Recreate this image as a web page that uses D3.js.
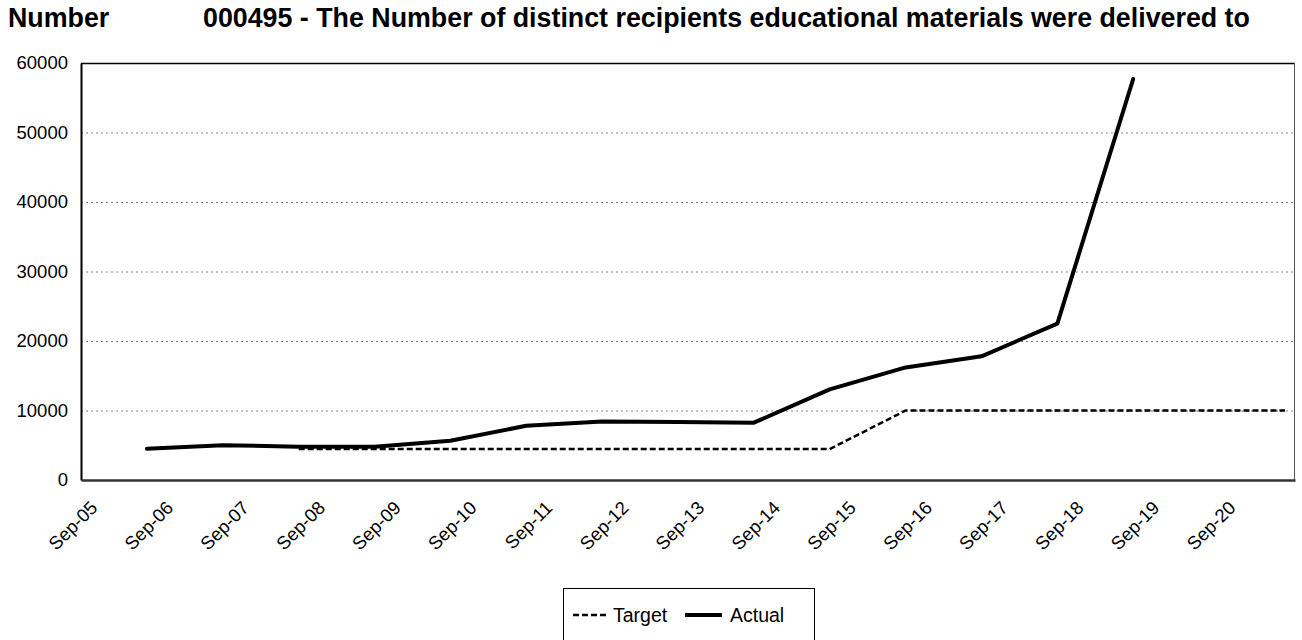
<!DOCTYPE html>
<html>
<head>
<meta charset="utf-8">
<script src="https://cdn.jsdelivr.net/npm/d3@7"></script>
<style>
  html, body { margin: 0; padding: 0; background: #fff; }
  svg { display: block; font-family: "Liberation Sans", Arial, sans-serif; }
</style>
</head>
<body>
<svg id="chart" width="1302" height="640"></svg>
<script>
// ---- data ----
const actualDates  = ["2006-07-15","2007-07-15","2008-07-15","2009-07-15","2010-07-15","2011-07-15","2012-07-15","2013-07-15","2014-07-15","2015-07-15","2016-07-15","2017-07-15","2018-07-15","2019-07-15"];
const actualValues = [4500, 5000, 4800, 4800, 5650, 7800, 8400, 8350, 8250, 13050, 16200, 17800, 22500, 57700];
const targetDates  = ["2008-07-15","2009-07-15","2010-07-15","2011-07-15","2012-07-15","2013-07-15","2014-07-15","2015-07-15","2016-07-15","2017-07-15","2018-07-15","2019-07-15","2020-07-15","2021-07-15"];
const targetValues = [4450, 4450, 4450, 4450, 4450, 4450, 4450, 4450, 10000, 10000, 10000, 10000, 10000, 10000];
const tickLabels   = ["Sep-05","Sep-06","Sep-07","Sep-08","Sep-09","Sep-10","Sep-11","Sep-12","Sep-13","Sep-14","Sep-15","Sep-16","Sep-17","Sep-18","Sep-19","Sep-20"];
const yTicks       = [0, 10000, 20000, 30000, 40000, 50000, 60000];
const titleLeft    = "Number";
const titleMain    = "000495 - The Number of distinct recipients educational materials were delivered to";
const legendNames  = ["Target", "Actual"];

// ---- layout ----
const svg = d3.select("#chart");
const L = 81, R = 1295, T = 63, B = 480;
const FONT = "Liberation Sans, Arial, sans-serif";
const parse = d3.timeParse("%Y-%m-%d");
const tickDates = tickLabels.map((s, i) => new Date(2005 + i, 8, 1));

const x = d3.scaleTime().domain([new Date(2005, 8, 1), new Date(2021, 8, 1)]).range([L, R]);
const y = d3.scaleLinear().domain([0, 60000]).range([B, T]);

// titles
svg.append("text").attr("x", 8).attr("y", 27).style("font-size", "26.8px").attr("font-weight", "bold").text(titleLeft);
svg.append("text").attr("x", 203).attr("y", 27).style("font-size", "26.8px").attr("font-weight", "bold").text(titleMain);

// gridlines
svg.append("g").selectAll("line").data(yTicks.filter(v => v > 0 && v < 60000)).join("line")
  .attr("x1", L).attr("x2", R).attr("y1", d => y(d) + 0.5).attr("y2", d => y(d) + 0.5)
  .attr("stroke", "#808080").attr("stroke-width", 1).attr("stroke-dasharray", "2,3");

// frame
svg.append("line").attr("x1", L).attr("x2", R).attr("y1", T + 0.5).attr("y2", T + 0.5).attr("stroke", "#000").attr("stroke-width", 1.3);
svg.append("line").attr("x1", R - 0.5).attr("x2", R - 0.5).attr("y1", T).attr("y2", B).attr("stroke", "#555").attr("stroke-width", 1);

// y axis
const yAxis = d3.axisLeft(y).tickValues(yTicks).tickSize(0).tickPadding(13).tickFormat(d3.format("d"));
const gy = svg.append("g").attr("transform", `translate(${L},0)`).call(yAxis);
gy.attr("font-size", null).attr("font-family", null);
gy.select(".domain").attr("stroke", "#000").attr("stroke-width", 2);
gy.selectAll("text").style("font-size", "18.5px").attr("fill", "#000").style("font-family", FONT);

// x axis
const xAxis = d3.axisBottom(x).tickValues(tickDates).tickSize(0).tickFormat((d, i) => tickLabels[i]);
const gx = svg.append("g").attr("transform", `translate(0,${B})`).call(xAxis);
gx.attr("font-size", null).attr("font-family", null);
gx.select(".domain").attr("stroke", "#333").attr("stroke-width", 2.5);
gx.selectAll("text")
  .style("font-size", "18.5px").attr("fill", "#000").style("font-family", FONT)
  .attr("text-anchor", "end").attr("dy", null).attr("y", 0)
  .attr("transform", "translate(17,29) rotate(-45)");

// lines
const line = d3.line().x(d => x(d[0])).y(d => y(d[1]));
const tData = targetDates.map((d, i) => [parse(d), targetValues[i]]);
const aData = actualDates.map((d, i) => [parse(d), actualValues[i]]);
svg.append("path").datum(tData).attr("d", line).attr("fill", "none").attr("stroke", "#000").attr("stroke-width", 2.5).attr("stroke-dasharray", "6,3");
svg.append("path").datum(aData).attr("d", line).attr("fill", "none").attr("stroke", "#000").attr("stroke-width", 4).attr("stroke-linejoin", "round").attr("stroke-linecap", "round");

// legend
const lg = svg.append("g");
lg.append("rect").attr("x", 563.5).attr("y", 588.5).attr("width", 251).attr("height", 60).attr("fill", "#fff").attr("stroke", "#000").attr("stroke-width", 1);
lg.append("line").attr("x1", 573).attr("x2", 609).attr("y1", 615).attr("y2", 615).attr("stroke", "#000").attr("stroke-width", 2.5).attr("stroke-dasharray", "6,3");
lg.append("text").attr("x", 613).attr("y", 622).style("font-size", "19.5px").text(legendNames[0]);
lg.append("line").attr("x1", 685).attr("x2", 722).attr("y1", 615).attr("y2", 615).attr("stroke", "#000").attr("stroke-width", 4);
lg.append("text").attr("x", 730).attr("y", 622).style("font-size", "19.5px").text(legendNames[1]);
</script>
</body>
</html>
